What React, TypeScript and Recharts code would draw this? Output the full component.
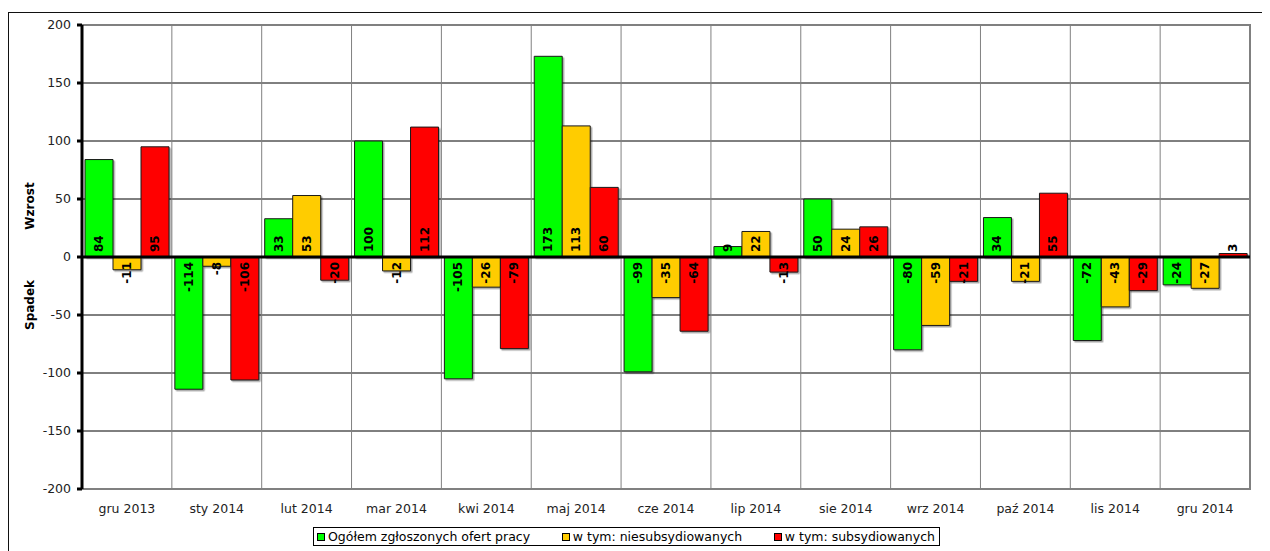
import {
	BarChart,
	Bar,
	XAxis,
	YAxis,
	CartesianGrid,
	ReferenceLine,
	ReferenceArea,
	LabelList,
	Legend,
} from "recharts";

// ─── Data ────────────────────────────────────────────────────────────────────

const months = [
	"gru 2013",
	"sty 2014",
	"lut 2014",
	"mar 2014",
	"kwi 2014",
	"maj 2014",
	"cze 2014",
	"lip 2014",
	"sie 2014",
	"wrz 2014",
	"paź 2014",
	"lis 2014",
	"gru 2014",
];

const ogolem = [84, -114, 33, 100, -105, 173, -99, 9, 50, -80, 34, -72, -24];
const niesubsydiowane = [-11, -8, 53, -12, -26, 113, -35, 22, 24, -59, -21, -43, -27];
const subsydiowane = [95, -106, -20, 112, -79, 60, -64, -13, 26, -21, 55, -29, 3];

const yTicks = [-200, -150, -100, -50, 0, 50, 100, 150, 200];

const seriesNames = [
	"Ogółem zgłoszonych ofert pracy",
	"w tym: niesubsydiowanych",
	"w tym: subsydiowanych",
];

const data = months.map((month, i) => ({
	month,
	ogolem: ogolem[i],
	niesub: niesubsydiowane[i],
	sub: subsydiowane[i],
}));

// ─── Styles ──────────────────────────────────────────────────────────────────

const font = "'DejaVu Sans', Verdana, sans-serif";
const green = "#00ff00";
const yellow = "#ffcc00";
const red = "#ff0000";
const barStroke = "#1a1a1a";

const tickStyle = { fontFamily: font, fontSize: 12.5, fill: "#222" };

// vertical grid lines sit on the category boundaries, not on the centres
function categoryBoundaries({ offset }: any) {
	const step = offset.width / months.length;
	return months.map((_, i) => offset.left + step * (i + 1)).slice(0, -1);
}

function ValueLabel(props: any) {
	const box = props.viewBox ?? props;
	const { x, y, width, height } = box;
	const value = Number(props.value);
	const cx = x + width / 2;
	const top = Math.min(y, y + height);
	const bottom = Math.max(y, y + height);
	const ay = value >= 0 ? bottom - 5 : top + 5;
	return (
		<text
			x={cx}
			y={ay}
			transform={`rotate(-90 ${cx} ${ay})`}
			textAnchor={value >= 0 ? "start" : "end"}
			dominantBaseline="central"
			fontFamily={font}
			fontSize={12}
			fontWeight="bold"
			fill="#000"
		>
			{value}
		</text>
	);
}

function AxisTitles(props: any) {
	const { viewBox } = props;
	const mid = viewBox.y + viewBox.height / 2;
	const x = 22;
	const text = (label: string, y: number) => (
		<text
			key={label}
			x={x}
			y={y}
			transform={`rotate(-90 ${x} ${y})`}
			textAnchor="middle"
			dominantBaseline="central"
			fontFamily={font}
			fontSize={12}
			fontWeight="bold"
			fill="#000"
		>
			{label}
		</text>
	);
	return (
		<g>
			{text("Wzrost", mid - 51)}
			{text("Spadek", mid + 48)}
		</g>
	);
}

function LegendBox() {
	const colors = [green, yellow, red];
	return (
		<div
			style={{
				border: "1px solid #000",
				height: 19,
				width: 627,
				boxSizing: "border-box",
				display: "flex",
				alignItems: "center",
				justifyContent: "space-between",
				padding: "0 4px 0 3px",
				fontFamily: font,
				fontSize: 12.5,
				color: "#000",
				background: "#fff",
			}}
		>
			{seriesNames.map((name, i) => (
				<div key={name} style={{ display: "flex", alignItems: "center" }}>
					<span
						style={{
							display: "inline-block",
							width: 6,
							height: 6,
							border: "1px solid #000",
							background: colors[i],
							marginRight: 3,
						}}
					/>
					<span style={{ whiteSpace: "nowrap" }}>{name}</span>
				</div>
			))}
		</div>
	);
}

export default function App() {
	return (
		<div style={{ position: "relative", width: 1262, height: 543, overflow: "hidden" }}>
			<div
				style={{
					position: "absolute",
					left: 0,
					top: 4,
					width: 1262,
					height: 560,
					borderLeft: "1px solid #111",
					borderTop: "1px solid #111",
				}}
			/>
			<BarChart
				width={1262}
				height={543}
				data={data}
				margin={{ top: 17, right: 20, left: 0, bottom: 32 }}
				barCategoryGap={3}
				barGap={0}
				style={{ position: "absolute", left: 0, top: 0 }}
			>
				<defs>
					<filter id="barShadow" x="-20%" y="-20%" width="140%" height="140%">
						<feDropShadow dx="1.5" dy="1.5" stdDeviation="0.6" floodColor="#000" floodOpacity="0.35" />
					</filter>
				</defs>
				<XAxis
					dataKey="month"
					tick={tickStyle}
					tickLine={false}
					axisLine={false}
					tickSize={0}
					tickMargin={15}
					height={30}
					interval={0}
				/>
				<YAxis
					domain={[-200, 200]}
					ticks={yTicks}
					tick={tickStyle}
					axisLine={{ stroke: "#000", strokeWidth: 3 }}
					tickLine={{ stroke: "#000", strokeWidth: 3 }}
					tickSize={5}
					tickMargin={6}
					width={74}
					label={{ content: <AxisTitles /> }}
				/>
				<CartesianGrid stroke="#000" strokeWidth={1} vertical={false} />
				<CartesianGrid
					stroke="#808080"
					strokeWidth={1}
					horizontal={false}
					verticalCoordinatesGenerator={categoryBoundaries}
				/>
				<ReferenceArea
					y1={-200}
					y2={200}
					fill="none"
					stroke="#808080"
					strokeWidth={2}
				/>
				<Bar
					dataKey="ogolem"
					name={seriesNames[0]}
					fill={green}
					stroke={barStroke}
					strokeWidth={1}
					filter="url(#barShadow)"
					isAnimationActive={false}
				>
					<LabelList dataKey="ogolem" content={<ValueLabel />} />
				</Bar>
				<Bar
					dataKey="niesub"
					name={seriesNames[1]}
					fill={yellow}
					stroke={barStroke}
					strokeWidth={1}
					filter="url(#barShadow)"
					isAnimationActive={false}
				>
					<LabelList dataKey="niesub" content={<ValueLabel />} />
				</Bar>
				<Bar
					dataKey="sub"
					name={seriesNames[2]}
					fill={red}
					stroke={barStroke}
					strokeWidth={1}
					filter="url(#barShadow)"
					isAnimationActive={false}
				>
					<LabelList dataKey="sub" content={<ValueLabel />} />
				</Bar>
				<ReferenceLine y={0} stroke="#000" strokeWidth={3} />
				<Legend
					layout="horizontal"
					verticalAlign="middle"
					content={<LegendBox />}
					wrapperStyle={{ top: 519, left: 305, width: 627, height: 19 }}
				/>
			</BarChart>
		</div>
	);
}
